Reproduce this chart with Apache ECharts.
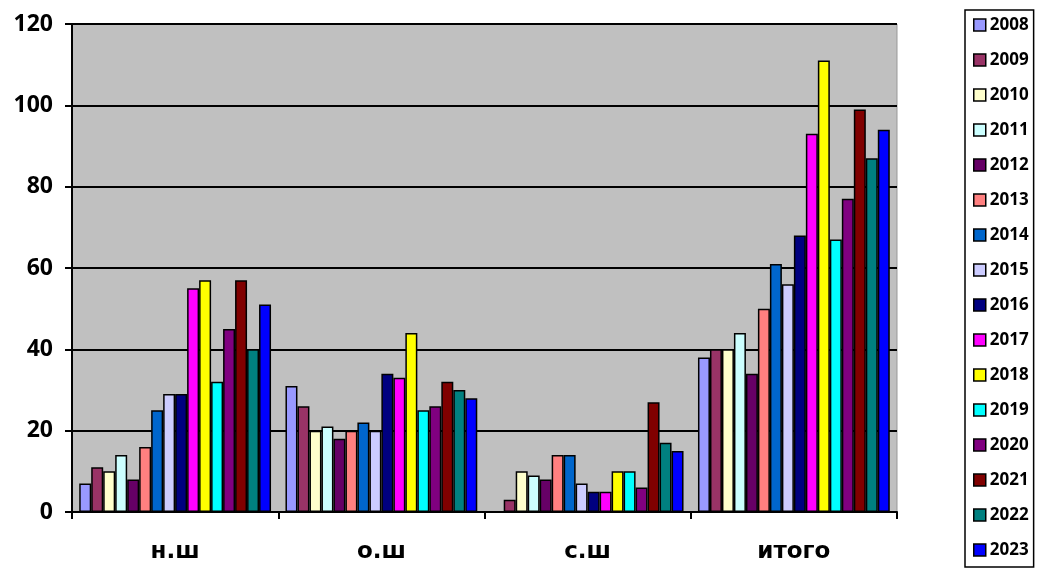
<!DOCTYPE html>
<html><head><meta charset="utf-8">
<script src="https://cdn.jsdelivr.net/npm/echarts@6/dist/echarts.min.js"></script>
<style>html,body{margin:0;padding:0;background:#fff}#c{width:1041px;height:569px}</style>
</head><body><div id="c"></div>
<script>
var categories = ['н.ш', 'о.ш', 'с.ш', 'итого'];
var years = ['2008','2009','2010','2011','2012','2013','2014','2015','2016','2017','2018','2019','2020','2021','2022','2023'];
var v2008 = [7, 31, 0, 38];
var v2009 = [11, 26, 3, 40];
var v2010 = [10, 20, 10, 40];
var v2011 = [14, 21, 9, 44];
var v2012 = [8, 18, 8, 34];
var v2013 = [16, 20, 14, 50];
var v2014 = [25, 22, 14, 61];
var v2015 = [29, 20, 7, 56];
var v2016 = [29, 34, 5, 68];
var v2017 = [55, 33, 5, 93];
var v2018 = [57, 44, 10, 111];
var v2019 = [32, 25, 10, 67];
var v2020 = [45, 26, 6, 77];
var v2021 = [57, 32, 27, 99];
var v2022 = [40, 30, 17, 87];
var v2023 = [51, 28, 15, 94];
var yTicks = [0, 20, 40, 60, 80, 100, 120];
var colors = ['#9999FF','#993366','#FFFFCC','#CCFFFF','#660066','#FF8080','#0066CC','#CCCCFF','#000080','#FF00FF','#FFFF00','#00FFFF','#800080','#800000','#008080','#0000FF'];
var values = [v2008,v2009,v2010,v2011,v2012,v2013,v2014,v2015,v2016,v2017,v2018,v2019,v2020,v2021,v2022,v2023];

var font = '"Open Sans", "Liberation Sans", Arial, sans-serif';
var series = years.map(function(y, i){
  return {
    name: y, type: 'bar', data: values[i],
    barGap: '0%', barCategoryGap: '7%',
    itemStyle: {color: colors[i], borderColor: '#000', borderWidth: 1.5},
    emphasis: {disabled: true}
  };
});
var chart = echarts.init(document.getElementById('c'));
chart.setOption({
  animation: false,
  color: colors,
  grid: {left: 72, right: 144, top: 24, bottom: 57, show: true, backgroundColor: '#C0C0C0', borderColor: '#999', borderWidth: 1},
  legend: {
    orient: 'vertical', left: 965, top: 10,
    padding: [6, 5, 8, 8],
    itemWidth: 12, itemHeight: 12, itemGap: 17,
    backgroundColor: '#fff', borderColor: '#000', borderWidth: 1.5,
    icon: 'rect',
    itemStyle: {borderColor: '#000', borderWidth: 1.5},
    textStyle: {fontFamily: font, fontWeight: 'bold', fontSize: 17, color: '#000', lineHeight: 18, padding: [0,0,0,-1]},
    data: years
  },
  xAxis: {
    type: 'category', data: categories,
    axisLine: {lineStyle: {color: '#000', width: 2}},
    axisTick: {show: true, length: 7, lineStyle: {color: '#000', width: 2}},
    axisLabel: {fontFamily: '"DejaVu Sans", sans-serif', fontWeight: 'bold', fontSize: 23, color: '#000', margin: 29}
  },
  yAxis: {
    type: 'value', min: yTicks[0], max: yTicks[yTicks.length-1], interval: 20,
    axisLine: {show: true, lineStyle: {color: '#000', width: 2}},
    axisTick: {show: true, length: 7, lineStyle: {color: '#000', width: 2}},
    splitLine: {lineStyle: {color: '#000', width: 2}},
    axisLabel: {fontFamily: font, fontWeight: 'bold', fontSize: 23, color: '#000', margin: 19}
  },
  series: series
});
</script></body></html>
